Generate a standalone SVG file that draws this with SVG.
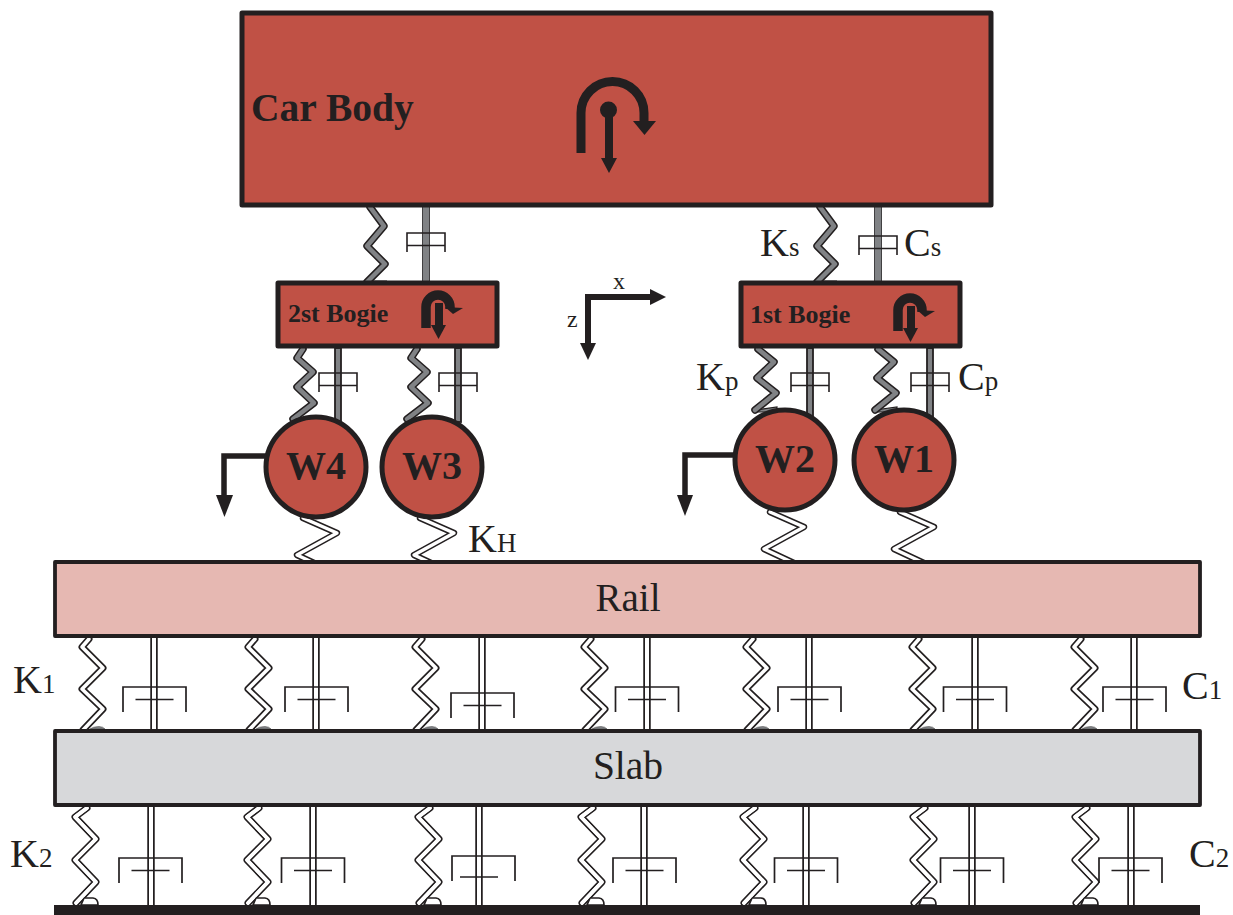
<svg xmlns="http://www.w3.org/2000/svg" xmlns:xlink="http://www.w3.org/1999/xlink" width="1233" height="915" viewBox="0 0 1233 915">
<style>
text{font-family:"Liberation Serif","Times New Roman",serif;fill:#231f20}
.b{font-weight:bold}
.box{stroke:#231f20;stroke-linejoin:round}
.red{fill:#c05145;stroke-width:5}
.o{fill:none;stroke:#231f20;stroke-linejoin:round;stroke-linecap:round}
.oi{fill:none;stroke:#fff;stroke-linejoin:round;stroke-linecap:round}
.g{fill:none;stroke:#808285;stroke-linejoin:round;stroke-linecap:round}
.t{fill:none;stroke:#231f20;stroke-width:1.7}
.gt{fill:none;stroke:#231f20;stroke-width:1.6}
.ic{fill:none;stroke:#231f20}
.f{fill:#231f20}
.l{font-size:40px}.s{font-size:27px}
</style>
<defs>
<path id="sp1" d="M7 0L0 8L21 29L0 50L21 70L1 91"/>
<path id="sp2" d="M12 0L0 9L21 31L0 52L21 74L1 95"/>
<g id="ts1"><use xlink:href="#sp1" class="o" stroke-width="7"/><use xlink:href="#sp1" class="oi" stroke-width="3.600"/><path d="M8 90Q11 87.500 17 87.500Q21 87.500 23 90Z" fill="#808285" stroke="#414042" stroke-width="0.500"/></g>
<g id="ts2"><use xlink:href="#sp2" class="o" stroke-width="7"/><use xlink:href="#sp2" class="oi" stroke-width="3.600"/><path d="M9 90H18Q23 90.500 23 97H6Z" fill="#fff" stroke="#231f20" stroke-width="1.700"/><use xlink:href="#sp2" class="oi" stroke-width="3.600"/></g>
<g id="r1"><line x1="0" y1="0" x2="0" y2="94" stroke="#231f20" stroke-width="7.500"/><line x1="0" y1="0" x2="0" y2="94" stroke="#fff" stroke-width="4"/></g>
<g id="r2"><line x1="0" y1="0" x2="0" y2="98" stroke="#231f20" stroke-width="7.500"/><line x1="0" y1="0" x2="0" y2="98" stroke="#fff" stroke-width="4"/></g>
<path id="b" class="t" d="M-31.500 25V0H31.500V25M-19 12.500H19"/>
<path id="gs" d="M0 0L14 19L-3 39L15 57L-3 75"/>
<path id="gl" d="M6 0L0 9L16 23L0 38L17 54L-4 70"/>
<path id="gr" d="M0 0L16 13L-1 29L18 44L-3 61"/>
<g id="gspring"><path d="M-3 75H17" stroke="#231f20" stroke-width="3"/><use xlink:href="#gs" class="o" stroke-width="7.500"/><use xlink:href="#gs" class="g" stroke-width="4.500"/></g>
<g id="gspringl"><use xlink:href="#gl" class="o" stroke-width="7.500"/><use xlink:href="#gl" class="g" stroke-width="4.500"/></g>
<g id="gspringr"><path d="M-3 61L19 58V63H-3Z" fill="#808285" stroke="#231f20" stroke-width="1.200"/><use xlink:href="#gr" class="o" stroke-width="7.500"/><use xlink:href="#gr" class="g" stroke-width="4.500"/></g>
<rect id="gd" x="-3.500" y="0" width="7" height="78" fill="#808285" stroke="#414042" stroke-width="1"/>
<rect id="gdl" x="-3" y="0" width="6" height="74" fill="#808285" stroke="#231f20" stroke-width="1.800"/>
<path id="gb" class="gt" d="M-19 19V0H19V19M-19 12.500H19"/>
<path id="ws" d="M0 0L34 15L-6 37L26 52"/>
<g id="wspring"><use xlink:href="#ws" class="o" stroke-width="6.400"/><use xlink:href="#ws" class="oi" stroke-width="3.400"/></g>
<g id="rot"><path class="ic" stroke-width="9.500" d="M0 38V17A12 12 0 0 1 24 17V19"/><path class="f" d="M19 17L37 18L27 24Z"/><rect x="9" y="13" width="8" height="28" class="f"/><circle class="f" cx="13" cy="17" r="4"/><path class="f" d="M5 35H20L12.500 49Z"/></g>
</defs>
<g id="connectors">
<use xlink:href="#gd" x="426" y="206"/><use xlink:href="#gb" x="426" y="233"/><use xlink:href="#gspring" x="370" y="207"/>
<use xlink:href="#gd" x="878" y="206"/><use xlink:href="#gb" x="878" y="236"/><use xlink:href="#gspring" x="820" y="207"/>
<use xlink:href="#gspringl" x="297" y="349"/><use xlink:href="#gdl" x="338" y="348"/><use xlink:href="#gb" x="338" y="373"/>
<use xlink:href="#gspringl" x="411" y="349"/><use xlink:href="#gdl" x="458" y="348"/><use xlink:href="#gb" x="458" y="373"/>
<use xlink:href="#gspringr" x="758" y="349"/><use xlink:href="#gdl" x="810" y="348"/><use xlink:href="#gb" x="810" y="373"/>
<use xlink:href="#gspringr" x="878" y="349"/><use xlink:href="#gdl" x="930" y="348"/><use xlink:href="#gb" x="930" y="373"/>
<use xlink:href="#wspring" x="303" y="518"/><use xlink:href="#wspring" x="420" y="518"/>
<use xlink:href="#wspring" x="770" y="512"/><use xlink:href="#wspring" x="900" y="512"/>
<use xlink:href="#ts1" x="82" y="639"/><use xlink:href="#r1" x="154" y="638"/><use xlink:href="#b" x="154.500" y="687"/>
<use xlink:href="#ts1" x="248" y="639"/><use xlink:href="#r1" x="316" y="638"/><use xlink:href="#b" x="316.500" y="687"/>
<use xlink:href="#ts1" x="415" y="639"/><use xlink:href="#r1" x="482" y="638"/><use xlink:href="#b" x="482.500" y="693"/>
<use xlink:href="#ts1" x="584" y="639"/><use xlink:href="#r1" x="647" y="638"/><use xlink:href="#b" x="647" y="687"/>
<use xlink:href="#ts1" x="746" y="639"/><use xlink:href="#r1" x="809" y="638"/><use xlink:href="#b" x="809.500" y="687"/>
<use xlink:href="#ts1" x="912" y="639"/><use xlink:href="#r1" x="975" y="638"/><use xlink:href="#b" x="975" y="687"/>
<use xlink:href="#ts1" x="1074" y="639"/><use xlink:href="#r1" x="1134" y="638"/><use xlink:href="#b" x="1134.500" y="687"/>
<use xlink:href="#ts2" x="75" y="808"/><use xlink:href="#r2" x="151" y="807"/><use xlink:href="#b" x="150.500" y="858"/>
<use xlink:href="#ts2" x="247" y="808"/><use xlink:href="#r2" x="313" y="807"/><use xlink:href="#b" x="313" y="858"/>
<use xlink:href="#ts2" x="418" y="808"/><use xlink:href="#r2" x="479" y="807"/><path class="t" d="M452 881V856H515V881M460 877H498"/>
<use xlink:href="#ts2" x="581" y="808"/><use xlink:href="#r2" x="644" y="807"/><use xlink:href="#b" x="644.500" y="858"/>
<use xlink:href="#ts2" x="743" y="808"/><use xlink:href="#r2" x="806" y="807"/><use xlink:href="#b" x="806" y="858"/>
<use xlink:href="#ts2" x="913" y="808"/><use xlink:href="#r2" x="972" y="807"/><use xlink:href="#b" x="972" y="858"/>
<use xlink:href="#ts2" x="1075" y="808"/><use xlink:href="#r2" x="1131" y="807"/><use xlink:href="#b" x="1130.500" y="858"/>
</g>
<g id="car-body">
<rect class="box red" x="242" y="13" width="749" height="192"/>
<text class="b" x="251" y="121" font-size="39.500">Car Body</text>
<path class="ic" stroke-width="9" d="M581 153V113A31.500 31.500 0 0 1 644 113V125"/><path class="f" d="M633 121H656L644.500 135Z"/>
<circle class="f" cx="608.500" cy="110" r="8.500"/><rect class="f" x="605" y="110" width="8" height="50"/><path class="f" d="M601 158H617L609 173Z"/>
</g>
<g id="bogie-2">
<rect class="box red" x="278" y="283" width="219" height="63"/>
<text class="b" x="288" y="322" font-size="26">2st Bogie</text>
<use xlink:href="#rot" x="426" y="290"/>
</g>
<g id="bogie-1">
<rect class="box red" x="741" y="283" width="219" height="63"/>
<text class="b" x="750" y="323" font-size="26">1st Bogie</text>
<use xlink:href="#rot" x="898" y="293"/>
</g>
<g id="axes">
<path class="ic" stroke-width="6" d="M652 297H588V345"/><path class="f" d="M650 289L666 297L650 305Z"/><path class="f" d="M580 343H596L588 360Z"/>
<text x="613" y="289" font-size="24">x</text><text x="567" y="327" font-size="24">z</text>
</g>
<g id="W4">
<path class="ic" stroke-width="5.500" d="M266 456H224V497"/><path class="f" d="M216 495H233L224.500 517Z"/>
<circle class="box red" cx="316" cy="467" r="50"/><text class="b" x="316" y="479" font-size="40" text-anchor="middle">W4</text>
</g>
<g id="W3"><circle class="box red" cx="432" cy="467" r="50"/><text class="b" x="432" y="479" font-size="40" text-anchor="middle">W3</text></g>
<g id="W2">
<path class="ic" stroke-width="5.500" d="M734 455H685V497"/><path class="f" d="M677 495H693L685 516Z"/>
<circle class="box red" cx="785" cy="460" r="50"/><text class="b" x="785" y="472" font-size="40" text-anchor="middle">W2</text>
</g>
<g id="W1"><circle class="box red" cx="904" cy="460" r="50"/><text class="b" x="904" y="472" font-size="40" text-anchor="middle">W1</text></g>
<g id="rail"><rect class="box" x="55" y="562" width="1145" height="74" fill="#e6b8b2" stroke-width="3.800"/><text x="628" y="611" font-size="39" text-anchor="middle">Rail</text></g>
<g id="slab"><rect class="box" x="55" y="731" width="1145" height="74" fill="#d7d8da" stroke-width="3.800"/><text x="628" y="779" font-size="39.500" text-anchor="middle">Slab</text></g>
<g id="ground"><rect class="f" x="54" y="905" width="1146" height="10"/></g>
<g id="labels">
<text x="760" y="256" class="l">K<tspan class="s">s</tspan></text>
<text x="904" y="256" class="l">C<tspan class="s">s</tspan></text>
<text x="696" y="390" class="l">K<tspan class="s">p</tspan></text>
<text x="958" y="390" class="l">C<tspan class="s">p</tspan></text>
<text x="468" y="552" class="l">K<tspan class="s">H</tspan></text>
<text x="13" y="693" class="l">K<tspan class="s">1</tspan></text>
<text x="1182" y="699" class="l">C<tspan class="s">1</tspan></text>
<text x="10" y="867" class="l">K<tspan class="s">2</tspan></text>
<text x="1189" y="867" class="l">C<tspan class="s">2</tspan></text>
</g>
</svg>
